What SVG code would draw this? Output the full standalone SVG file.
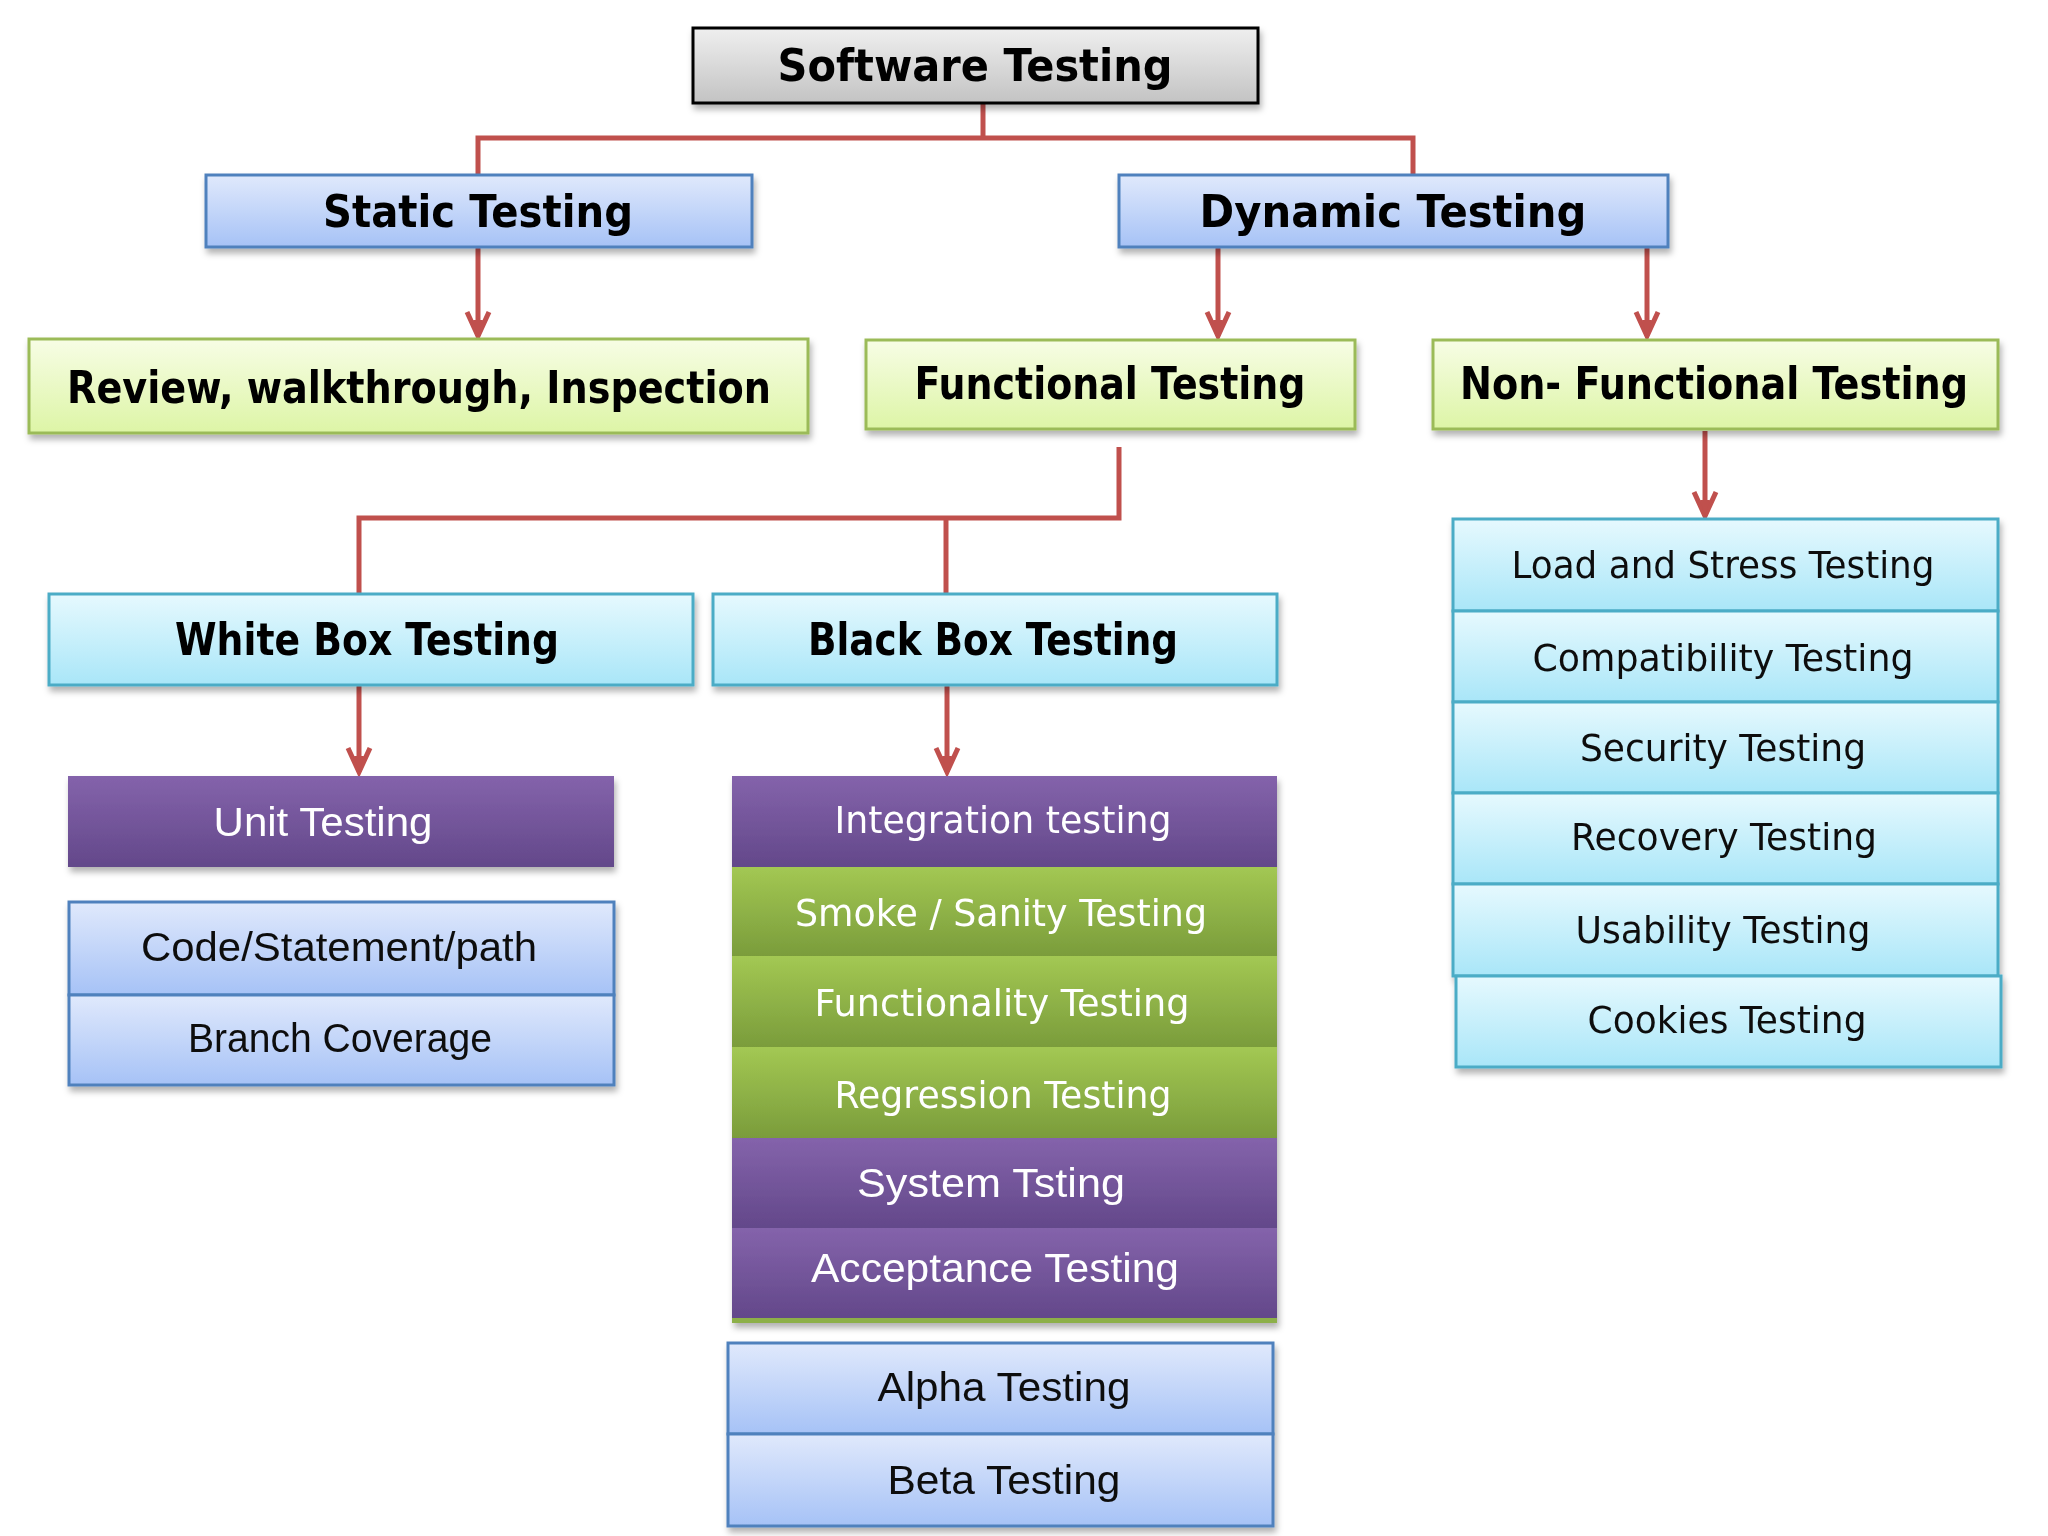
<svg xmlns="http://www.w3.org/2000/svg" width="2048" height="1536" viewBox="0 0 2048 1536">
<defs>
<linearGradient id="gGray" x1="0" y1="0" x2="0" y2="1"><stop offset="0" stop-color="#efefef"/><stop offset="1" stop-color="#c3c3c3"/></linearGradient>
<linearGradient id="gBlue" x1="0" y1="0" x2="0" y2="1"><stop offset="0" stop-color="#e0e9fc"/><stop offset="1" stop-color="#a6c2f6"/></linearGradient>
<linearGradient id="gGreenL" x1="0" y1="0" x2="0" y2="1"><stop offset="0" stop-color="#f7fde5"/><stop offset="1" stop-color="#ddf5a6"/></linearGradient>
<linearGradient id="gCyan" x1="0" y1="0" x2="0" y2="1"><stop offset="0" stop-color="#e6f9fe"/><stop offset="1" stop-color="#a9e6f8"/></linearGradient>
<linearGradient id="gPurple" x1="0" y1="0" x2="0" y2="1"><stop offset="0" stop-color="#8463ab"/><stop offset="1" stop-color="#63488a"/></linearGradient>
<linearGradient id="gGreen" x1="0" y1="0" x2="0" y2="1"><stop offset="0" stop-color="#a3c853"/><stop offset="1" stop-color="#7a9c3b"/></linearGradient>
<filter id="sh" x="-5%" y="-10%" width="110%" height="130%">
<feDropShadow dx="2" dy="5" stdDeviation="3" flood-color="#000" flood-opacity="0.3"/>
</filter>
<marker id="arr" markerUnits="userSpaceOnUse" markerWidth="34" markerHeight="40" viewBox="-28 -20 34 40" refX="0" refY="0" orient="auto">
<path d="M-24,-11 L0,0 L-24,11" fill="none" stroke="#c0504d" stroke-width="5" stroke-linejoin="miter"/>
<path d="M-16,-5 L0,0 L-16,5 Z" fill="#c0504d"/>
</marker>
</defs>
<style>
.bold{font-family:"DejaVu Sans","Liberation Sans",sans-serif;font-weight:bold;font-size:44px;fill:#000;text-anchor:middle}
.reg{font-family:"DejaVu Sans","Liberation Sans",sans-serif;font-size:38px;text-anchor:middle}
.ari{font-family:"Liberation Sans",Arial,sans-serif;font-size:40px;text-anchor:middle}
.dk{fill:#111}
.wh{fill:#fff}
.conn{fill:none;stroke:#c0504d;stroke-width:5}
.gray{fill:url(#gGray);stroke:#000;stroke-width:3}
.blue{fill:url(#gBlue);stroke:#4f81bd;stroke-width:3}
.greenL{fill:url(#gGreenL);stroke:#9bbb59;stroke-width:3}
.cyan{fill:url(#gCyan);stroke:#4bacc6;stroke-width:3}
.purple{fill:url(#gPurple)}
.green{fill:url(#gGreen)}
</style>
<rect width="2048" height="1536" fill="#fff"/>

<g id="connectors">
<path class="conn" d="M983,103 V138"/>
<path class="conn" d="M478,175 V138 H1413 V175"/>
<path class="conn" d="M478,248 V336" marker-end="url(#arr)"/>
<path class="conn" d="M1218,248 V336" marker-end="url(#arr)"/>
<path class="conn" d="M1647,248 V336" marker-end="url(#arr)"/>
<path class="conn" d="M359,594 V518 H1119 V447"/>
<path class="conn" d="M946,518 V594"/>
<path class="conn" d="M1705,431 V516" marker-end="url(#arr)"/>
<path class="conn" d="M359,685 V772" marker-end="url(#arr)"/>
<path class="conn" d="M947,685 V772" marker-end="url(#arr)"/>
</g>

<g filter="url(#sh)">
<g id="software-testing"><rect class="gray" x="693" y="28" width="565" height="75"/><text class="bold" x="975" y="81" font-size="46" textLength="395" lengthAdjust="spacingAndGlyphs">Software Testing</text></g>
<g id="static-testing"><rect class="blue" x="206" y="175" width="546" height="72"/><text class="bold" x="478" y="227" textLength="310" lengthAdjust="spacingAndGlyphs">Static Testing</text></g>
<g id="dynamic-testing"><rect class="blue" x="1119" y="175" width="549" height="72"/><text class="bold" x="1393" y="227" textLength="387" lengthAdjust="spacingAndGlyphs">Dynamic Testing</text></g>
<g id="review"><rect class="greenL" x="29" y="339" width="779" height="94"/><text class="bold" x="419" y="403" textLength="704" lengthAdjust="spacingAndGlyphs">Review, walkthrough, Inspection</text></g>
<g id="functional-testing"><rect class="greenL" x="866" y="340" width="489" height="89"/><text class="bold" x="1110" y="399" textLength="391" lengthAdjust="spacingAndGlyphs">Functional Testing</text></g>
<g id="non-functional-testing"><rect class="greenL" x="1433" y="340" width="565" height="89"/><text class="bold" x="1714" y="399" textLength="508" lengthAdjust="spacingAndGlyphs">Non- Functional Testing</text></g>
<g id="white-box"><rect class="cyan" x="49" y="594" width="644" height="91"/><text class="bold" x="367" y="655" textLength="384" lengthAdjust="spacingAndGlyphs">White Box Testing</text></g>
<g id="black-box"><rect class="cyan" x="713" y="594" width="564" height="91"/><text class="bold" x="993" y="655" textLength="370" lengthAdjust="spacingAndGlyphs">Black Box Testing</text></g>
<g id="unit-testing"><rect class="purple" x="68" y="776" width="546" height="91"/><text class="ari wh" x="323" y="836" textLength="219" lengthAdjust="spacingAndGlyphs">Unit Testing</text></g>
</g>

<g filter="url(#sh)">
<g id="code-statement-path"><rect class="blue" x="69" y="902" width="545" height="93"/><text class="ari dk" x="339" y="961" textLength="396" lengthAdjust="spacingAndGlyphs">Code/Statement/path</text></g>
<g id="branch-coverage"><rect class="blue" x="69" y="995" width="545" height="90"/><text class="ari dk" x="340" y="1052" textLength="304" lengthAdjust="spacingAndGlyphs">Branch Coverage</text></g>
</g>

<g filter="url(#sh)">
<rect x="732" y="1310" width="545" height="13" fill="#8db04a"/>
<g id="integration-testing"><rect class="purple" x="732" y="776" width="545" height="91"/><text class="reg wh" x="1003" y="833" textLength="337" lengthAdjust="spacingAndGlyphs">Integration testing</text></g>
<g id="smoke-sanity"><rect class="green" x="732" y="867" width="545" height="89"/><text class="reg wh" x="1001" y="926" textLength="412" lengthAdjust="spacingAndGlyphs">Smoke / Sanity Testing</text></g>
<g id="functionality-testing"><rect class="green" x="732" y="956" width="545" height="91"/><text class="reg wh" x="1002" y="1016" textLength="375" lengthAdjust="spacingAndGlyphs">Functionality  Testing</text></g>
<g id="regression-testing"><rect class="green" x="732" y="1047" width="545" height="91"/><text class="reg wh" x="1003" y="1108" textLength="337" lengthAdjust="spacingAndGlyphs">Regression  Testing</text></g>
<g id="system-testing"><rect class="purple" x="732" y="1138" width="545" height="90"/><text class="ari wh" x="991" y="1197" textLength="268" lengthAdjust="spacingAndGlyphs">System Tsting</text></g>
<g id="acceptance-testing"><rect class="purple" x="732" y="1228" width="545" height="90"/><text class="ari wh" x="995" y="1282" textLength="368" lengthAdjust="spacingAndGlyphs">Acceptance Testing</text></g>
</g>

<g filter="url(#sh)">
<g id="alpha-testing"><rect class="blue" x="728" y="1343" width="545" height="91"/><text class="ari dk" x="1004" y="1401" textLength="253" lengthAdjust="spacingAndGlyphs">Alpha Testing</text></g>
<g id="beta-testing"><rect class="blue" x="728" y="1434" width="545" height="92"/><text class="ari dk" x="1004" y="1494" textLength="233" lengthAdjust="spacingAndGlyphs">Beta Testing</text></g>
</g>

<g filter="url(#sh)">
<g id="load-stress"><rect class="cyan" x="1453" y="519" width="545" height="92"/><text class="reg dk" x="1723" y="578" textLength="423" lengthAdjust="spacingAndGlyphs">Load and Stress Testing</text></g>
<g id="compatibility"><rect class="cyan" x="1453" y="611" width="545" height="91"/><text class="reg dk" x="1723" y="671" textLength="381" lengthAdjust="spacingAndGlyphs">Compatibility  Testing</text></g>
<g id="security"><rect class="cyan" x="1453" y="702" width="545" height="91"/><text class="reg dk" x="1723" y="761" textLength="286" lengthAdjust="spacingAndGlyphs">Security  Testing</text></g>
<g id="recovery"><rect class="cyan" x="1453" y="793" width="545" height="91"/><text class="reg dk" x="1724" y="850" textLength="306" lengthAdjust="spacingAndGlyphs">Recovery Testing</text></g>
<g id="usability"><rect class="cyan" x="1453" y="884" width="545" height="92"/><text class="reg dk" x="1723" y="943" textLength="295" lengthAdjust="spacingAndGlyphs">Usability  Testing</text></g>
<g id="cookies"><rect class="cyan" x="1456" y="976" width="545" height="91"/><text class="reg dk" x="1727" y="1033" textLength="279" lengthAdjust="spacingAndGlyphs">Cookies  Testing</text></g>
</g>
</svg>
